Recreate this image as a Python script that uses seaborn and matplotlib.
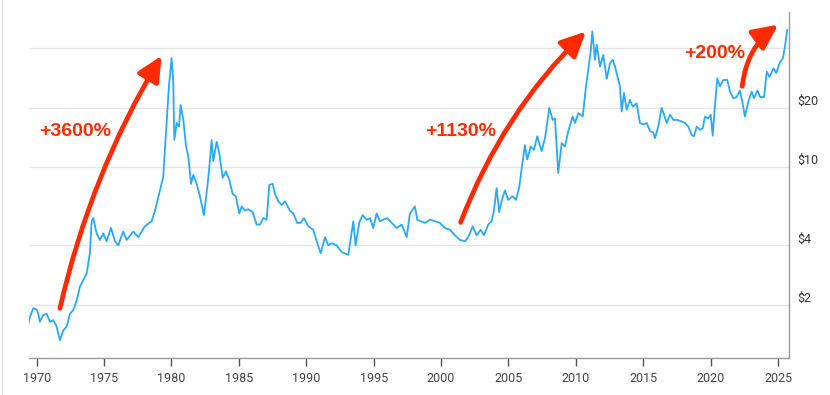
import matplotlib
matplotlib.use('Agg')
import matplotlib.pyplot as plt
from matplotlib.lines import Line2D
import pandas as pd
import seaborn as sns

# silver price (year, $/oz)
years = [
    1969.38, 1969.50, 1969.75, 1970.00, 1970.12, 1970.24, 1970.49, 1970.74, 1970.99, 1971.23,
    1971.48, 1971.73, 1971.97, 1972.23, 1972.47, 1972.72, 1972.97, 1973.21, 1973.46, 1973.71,
    1973.95, 1974.08, 1974.20, 1974.45, 1974.70, 1974.94, 1975.19, 1975.51, 1975.81, 1976.05,
    1976.42, 1976.68, 1977.17, 1977.54, 1978.03, 1978.53, 1978.78, 1979.15, 1979.39, 1979.64,
    1979.81, 1980.01, 1980.13, 1980.21, 1980.39, 1980.56, 1980.68, 1980.88, 1981.08, 1981.25,
    1981.45, 1981.62, 1981.87, 1982.11, 1982.41, 1982.66, 1982.80, 1982.98, 1983.10, 1983.35,
    1983.55, 1983.80, 1984.04, 1984.29, 1984.54, 1984.78, 1985.03, 1985.21, 1985.45, 1985.70,
    1986.02, 1986.32, 1986.57, 1986.81, 1987.06, 1987.26, 1987.51, 1987.68, 1987.92, 1988.18,
    1988.42, 1988.79, 1989.04, 1989.33, 1989.58, 1989.83, 1990.15, 1990.52, 1990.77, 1991.07,
    1991.39, 1991.63, 1991.88, 1992.26, 1992.63, 1993.12, 1993.49, 1993.66, 1993.93, 1994.18,
    1994.48, 1994.73, 1994.97, 1995.22, 1995.47, 1995.71, 1996.01, 1996.34, 1996.71, 1997.08,
    1997.45, 1997.69, 1998.06, 1998.23, 1998.49, 1998.81, 1999.18, 1999.55, 1999.92, 2000.29,
    2000.66, 2001.03, 2001.40, 2001.77, 2002.02, 2002.34, 2002.64, 2002.94, 2003.18, 2003.50,
    2003.75, 2003.92, 2004.12, 2004.31, 2004.49, 2004.74, 2004.98, 2005.31, 2005.56, 2005.80,
    2005.98, 2006.22, 2006.39, 2006.65, 2006.89, 2007.14, 2007.46, 2007.71, 2008.03, 2008.28,
    2008.45, 2008.69, 2008.95, 2009.19, 2009.44, 2009.76, 2009.93, 2010.18, 2010.51, 2010.75,
    2010.92, 2011.10, 2011.22, 2011.42, 2011.54, 2011.79, 2012.03, 2012.29, 2012.53, 2012.73,
    2012.90, 2013.15, 2013.27, 2013.40, 2013.57, 2013.77, 2014.01, 2014.21, 2014.51, 2014.75,
    2015.00, 2015.25, 2015.50, 2015.74, 2015.87, 2016.11, 2016.36, 2016.54, 2016.74, 2016.98,
    2017.23, 2017.52, 2017.85, 2018.09, 2018.34, 2018.59, 2018.76, 2018.96, 2019.20, 2019.41,
    2019.58, 2019.82, 2020.00, 2020.15, 2020.27, 2020.49, 2020.69, 2020.94, 2021.23, 2021.43,
    2021.68, 2021.93, 2022.17, 2022.37, 2022.54, 2022.79, 2023.04, 2023.21, 2023.47, 2023.67,
    2023.96, 2024.16, 2024.36, 2024.67, 2024.86, 2025.11, 2025.36, 2025.51, 2025.68,
]
prices = [
    1.58, 1.73, 1.92, 1.89, 1.80, 1.64, 1.77, 1.80, 1.64, 1.67,
    1.55, 1.32, 1.48, 1.55, 1.80, 1.88, 2.10, 2.47, 2.67, 2.88,
    3.65, 5.30, 5.50, 4.60, 4.26, 4.60, 4.20, 4.90, 4.20, 4.00,
    4.70, 4.26, 4.70, 4.40, 5.00, 5.30, 6.00, 7.60, 8.90, 16.7,
    25.6, 35.6, 27.6, 13.7, 16.7, 16.0, 20.6, 17.3, 12.7, 11.3,
    8.20, 9.10, 8.20, 7.10, 5.70, 7.90, 9.80, 13.7, 10.7, 13.4,
    11.7, 8.80, 9.50, 8.60, 7.30, 7.10, 5.80, 6.30, 6.00, 6.10,
    5.90, 5.10, 5.10, 5.50, 5.40, 8.10, 8.20, 7.30, 6.70, 6.40,
    6.70, 6.00, 5.80, 5.20, 5.20, 5.50, 5.00, 4.80, 4.20, 3.65,
    4.40, 4.00, 4.10, 4.00, 3.70, 3.58, 5.30, 4.00, 5.20, 5.70,
    5.40, 5.50, 4.90, 5.80, 5.30, 5.40, 5.50, 5.20, 4.90, 5.10,
    4.40, 5.80, 6.30, 5.40, 5.30, 5.20, 5.40, 5.30, 5.20, 4.90,
    4.80, 4.50, 4.26, 4.20, 4.40, 5.00, 4.50, 4.80, 4.50, 5.10,
    5.30, 6.00, 7.80, 5.90, 6.70, 7.60, 6.80, 7.10, 6.80, 7.90,
    9.80, 12.9, 10.9, 12.7, 12.2, 14.3, 12.0, 14.0, 19.9, 17.3,
    17.6, 9.30, 13.2, 12.7, 15.2, 18.0, 16.7, 18.7, 18.0, 25.6,
    31.1, 38.5, 48.6, 34.9, 41.6, 32.3, 36.9, 28.0, 33.5, 34.9,
    32.3, 27.6, 25.6, 19.1, 23.7, 19.5, 21.9, 20.2, 21.0, 16.7,
    16.4, 16.7, 15.2, 14.9, 14.0, 16.0, 19.9, 18.4, 16.7, 18.4,
    17.3, 17.3, 17.0, 16.7, 16.0, 14.5, 14.3, 16.0, 15.4, 15.7,
    18.0, 17.6, 18.4, 14.4, 18.7, 28.1, 25.6, 27.6, 27.6, 24.1,
    22.3, 22.6, 24.4, 21.0, 18.0, 21.4, 24.1, 22.3, 24.4, 22.6,
    22.6, 30.4, 28.6, 31.6, 29.9, 33.5, 35.6, 40.8, 49.6,
]

x_ticks = [1970, 1975, 1980, 1985, 1990, 1995, 2000, 2005, 2010, 2015, 2020, 2025]
y_ticks = [2, 4, 10, 20, 40]
y_tick_labels = ['$2', '$4', '$10', '$20', '']

# gains: label, label position, arrow tail, arrow tip, curvature
gain_labels = ['+3600%', '+1130%', '+200%']
label_pos = [(1972.88, 14.3), (2001.48, 14.4), (2020.26, 35.6)]
arrow_tail = [(1971.73, 1.92), (2001.45, 5.23), (2022.34, 25.6)]
arrow_tip = [(1979.27, 36.6), (2010.75, 48.6), (2025.01, 52.6)]
arrow_rad = [-0.08, -0.11, -0.22]

df = pd.DataFrame({'year': years, 'price': prices})

sns.set_theme(style='white')
plt.rcParams['font.family'] = ['Roboto', 'DejaVu Sans']

fig = plt.figure(figsize=(8.3, 3.95), dpi=100)
ax = fig.add_axes([0.0349, 0.0929, 0.9157, 0.8767])

sns.lineplot(data=df, x='year', y='price', ax=ax, color='#2aa9f6', linewidth=1.3)

ax.set_yscale('log')
ax.set_ylim(1.07, 61)
ax.set_xlim(1969.43, 2025.81)

ax.set_xticks(x_ticks)
ax.set_xticklabels([str(t) for t in x_ticks])
ax.set_yticks(y_ticks)
ax.set_yticklabels(y_tick_labels)
ax.minorticks_off()
ax.yaxis.tick_right()
ax.set_xlabel('')
ax.set_ylabel('')

ax.grid(axis='y', color='#e6e6e6', linewidth=1)
ax.grid(axis='x', visible=False)
ax.set_axisbelow(True)

for side in ['left', 'top']:
    ax.spines[side].set_visible(False)
for side in ['right', 'bottom']:
    ax.spines[side].set_visible(True)
    ax.spines[side].set_color('#9a9a9a')
    ax.spines[side].set_linewidth(1)

ax.tick_params(axis='x', bottom=True, direction='out', length=6, width=1,
               color='#555555', labelsize=9, labelcolor='#444444', pad=4)
ax.tick_params(axis='y', right=True, left=False, length=0, labelsize=9,
               labelcolor='#333333', pad=6)
for lbl in ax.get_yticklabels():
    lbl.set_verticalalignment('bottom')

red = '#ff2a00'
for text, pos, tail, tip, rad in zip(gain_labels, label_pos, arrow_tail, arrow_tip, arrow_rad):
    ax.annotate('', xy=tip, xytext=tail,
                arrowprops=dict(arrowstyle='-|>,head_length=1.0,head_width=0.48',
                                mutation_scale=15, color=red, lw=3.4,
                                shrinkA=0, shrinkB=0,
                                connectionstyle='arc3,rad=%s' % rad))
    ax.text(pos[0], pos[1], text, color=red, fontsize=14, fontweight='bold',
            ha='center', va='baseline', family=['Liberation Sans', 'DejaVu Sans'])

# faint frame edge on the left like the source page
fig.add_artist(Line2D([0.003, 0.003], [0, 1], transform=fig.transFigure,
                      color='#e2e2e2', linewidth=1))

fig.savefig('out.png', dpi=100)
